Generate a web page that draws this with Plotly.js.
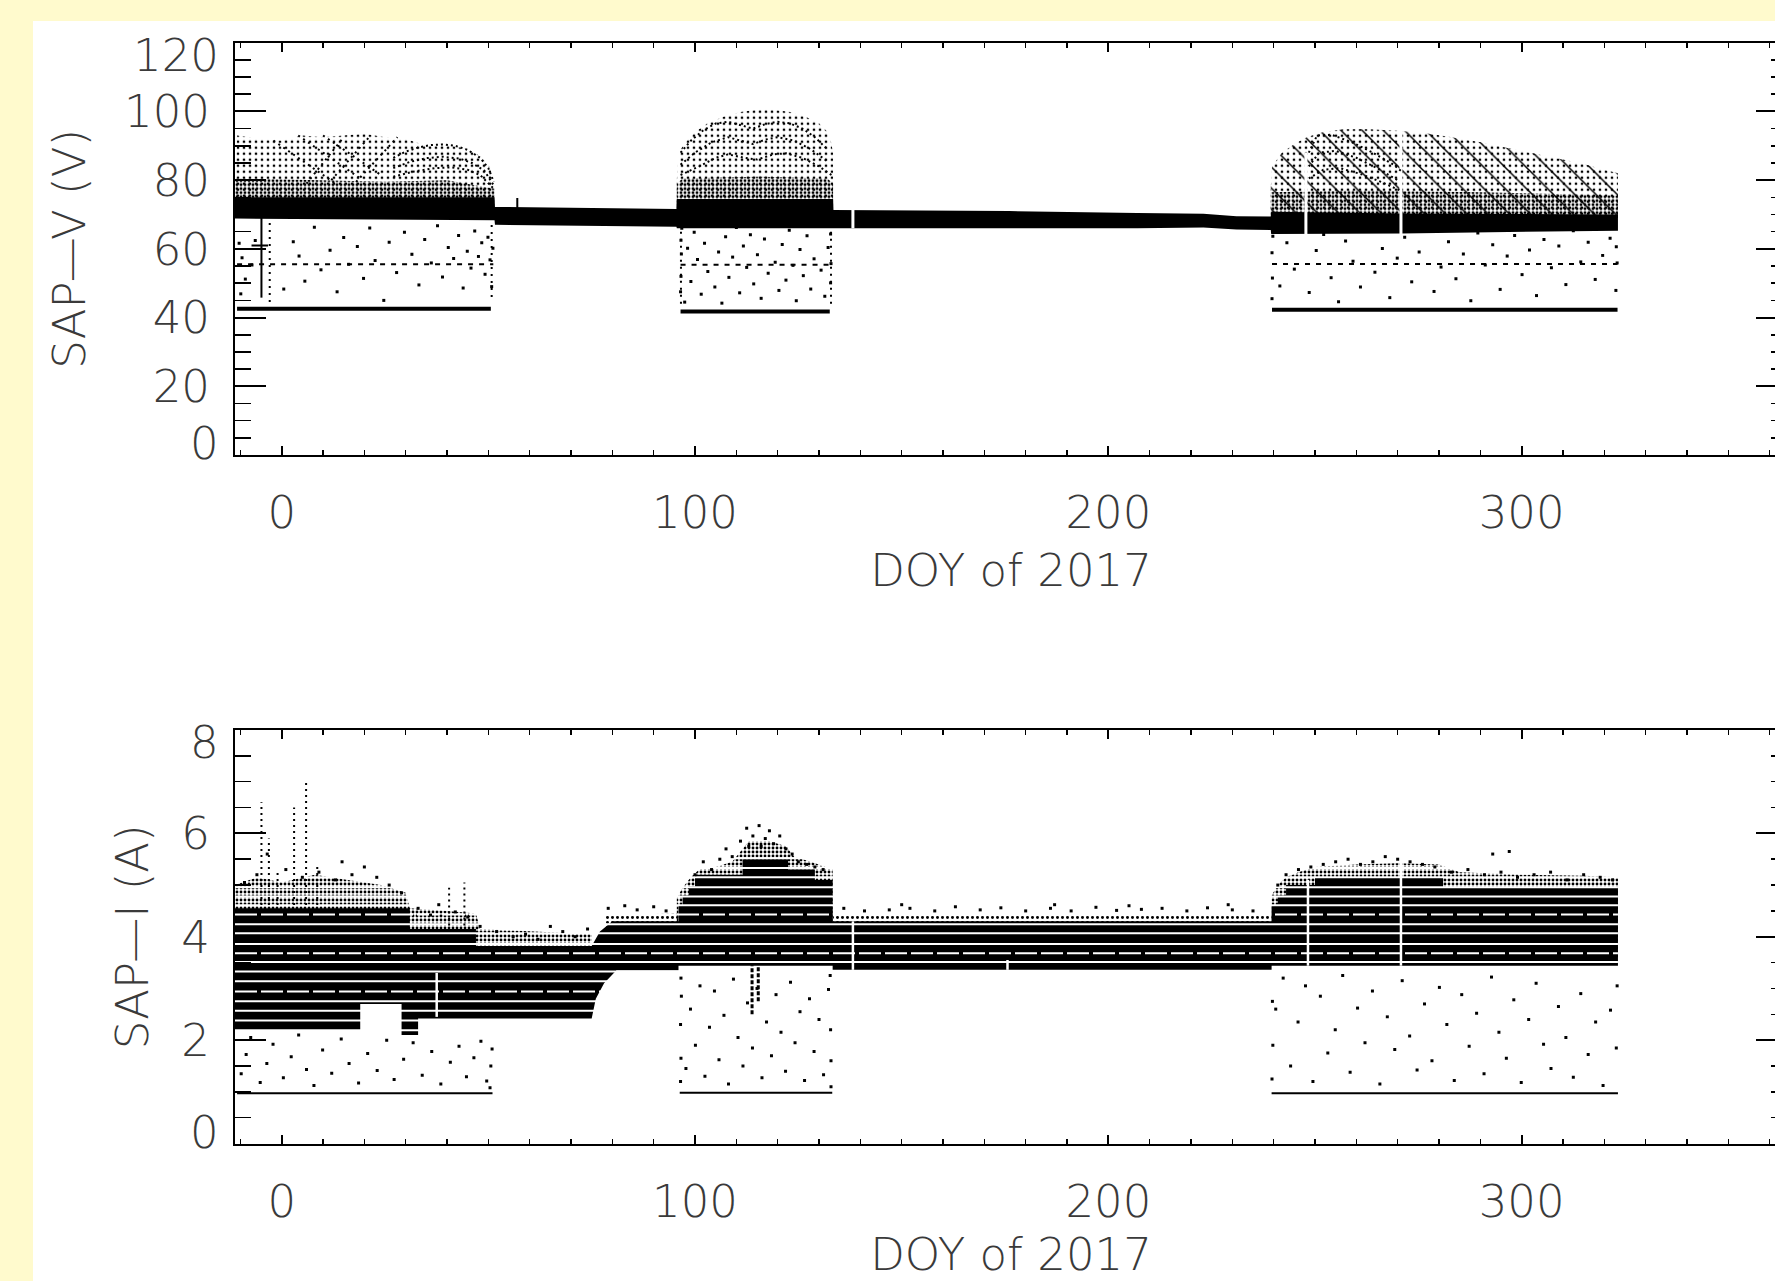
<!DOCTYPE html>
<html>
<head>
<meta charset="utf-8">
<script src="https://cdn.plot.ly/plotly-3.0.1.min.js"></script>
<style>
html, body { margin: 0; padding: 0; overflow: hidden; background: #fffacd; }
#chart { width: 1800px; height: 1300px; }
</style>
</head>
<body>
<div id="chart"></div>
<script>
// ================= SAP voltage (upper panel), volts vs DOY =================
// main telemetry band: upper and lower edge
const vBandX   = [-11.3, 51.5, 51.6, 95.5, 95.6, 133.4, 133.5, 176, 207, 223, 231, 239.3, 239.4, 271, 323.3];
const vBandTop = [75.0, 75.0, 72.2, 71.6, 74.5, 74.5, 71.3, 71.0, 70.4, 70.2, 69.5, 69.4, 70.8, 70.3, 70.0];
const vBandBot = [68.8, 68.3, 67.0, 66.4, 66.0, 66.0, 66.2, 66.0, 66.0, 66.2, 65.6, 65.5, 64.3, 64.5, 65.3];

// upper envelope of the scatter during the three eclipse seasons
const vEnv1X = [-11.3, -10.8, -5, 0, 5, 10, 15, 20, 25, 30, 35, 40, 45, 48, 50.5, 51.5];
const vEnv1V = [80, 93, 92, 91.5, 93, 92.5, 93, 93.5, 92.5, 92, 90, 90.3, 89, 87, 83.5, 78];
const vEnv2X = [95.6, 96, 98, 100, 103, 107, 111, 115, 119, 123, 127, 130, 132.5, 133.4];
const vEnv2V = [80, 88, 91.5, 94, 96.5, 98.5, 99.8, 100.5, 100.5, 99.8, 98.3, 96.5, 93.5, 88];
const vEnv3X = [239.3, 239.6, 242, 245, 248, 252, 257, 263, 270, 276, 282, 290, 298, 306, 314, 320, 323.3];
const vEnv3V = [78, 84, 88, 90.5, 92.5, 94, 94.8, 94.8, 94.4, 93.8, 92.7, 91, 89, 87, 85, 83, 82];

// densest part of the scatter just above the band
const vDense1X = [-11.3, 10, 25, 40, 51.5];
const vDense1V = [80.5, 80, 79.5, 80, 77.5];
const vDense2X = [95.6, 97, 115, 132, 133.4];
const vDense2V = [79, 80.5, 81, 80.5, 79];
const vDense3X = [239.3, 260, 290, 323.3];
const vDense3V = [76.5, 77, 76.5, 75.5];
const vZoneBase = [72, 72, 69];

// arcs traced by the upper points
const vArcX = [
  [27, 30, 33, 36, 39, 42, 45, 48, 50, 51.3],
  [27, 31, 35, 39, 43, 46, 49, 51.3],
  [27, 32, 37, 41, 45, 48, 51.3],
  [96.5, 99, 102, 105, 108, 111, 114, 117, 120, 123, 126, 129, 132],
  [96.5, 100, 104, 108, 111, 114, 117, 120, 124, 128, 132],
  [96.5, 101, 105, 108, 112, 115, 119, 122, 126, 130, 133],
  [248.5, 250.5, 254, 259, 264, 269, 271],
  [248.5, 251, 255, 260, 265, 270],
  [248.5, 252, 256, 261, 266, 270.5]
];
const vArcV = [
  [86.5, 88.3, 89.5, 90.2, 90.4, 90, 88.8, 86.5, 83.5, 79.5],
  [83.5, 85.3, 86.4, 86.8, 86.3, 85, 82.8, 78.5],
  [81, 82.5, 83.5, 83.7, 83, 81.5, 77.5],
  [88, 91.5, 94.5, 96.5, 97, 96, 95, 96.3, 97, 96.5, 95, 92.5, 89],
  [84.5, 88, 91, 92.5, 91.5, 90.5, 91.8, 92.5, 91.5, 89, 85.5],
  [81.5, 84, 86.5, 87.5, 86.5, 86, 87.5, 87.8, 86.5, 84, 81.5],
  [88, 93, 93.2, 91, 88, 84.5, 82.5],
  [84, 88, 88.5, 86.5, 83.5, 80],
  [80.5, 83, 83.5, 81.8, 79.5, 77]
];
// crossing diagonals early in the first season
const vDiagX = [[-2, 13], [4, 19], [10, 24], [6, 15], [12, 21.5], [18, 28]];
const vDiagV = [[91.5, 79], [93, 80.5], [93, 81.5], [79, 92.5], [80, 93], [79.5, 92.5]];

// lower floor and dashed level in each season
const vFloorX0 = [-10.8, 96.5, 239.6];
const vFloorX1 = [50.6, 132.6, 323.2];
const vFloorV  = [42.6, 41.8, 42.3];
const vMidX0 = [-10.8, 96.5, 239.6];
const vMidX1 = [51.2, 133.2, 323.2];
const vMidV  = [55.5, 55.4, 55.6];

// isolated vertical features
const vVertX  = [-4.9, 57];
const vVertLo = [45.8, 71];
const vVertHi = [69.7, 74.8];
const vDotColX  = [-2.9, 50.8, 96.6, 132.9];
const vDotColLo = [42.5, 46, 44, 44];
const vDotColHi = [68.8, 68, 67, 67];
const vGapX  = [138.2, 247.8, 270.8];
const vGapLo = [66, 64.2, 64.3];
const vGapHi = [71.5, 88, 95];

// scattered low readings
const vLow = [
  [-10.3,61.6],[-9.6,57.4],[-8.8,51.2],[-7.2,55.3],[-6.4,62.4],[-9.9,46.9],[0.5,48.3],[2.8,62.1],[4.2,57.9],[5.6,50.6],
  [7.9,66.3],[9.5,53.9],[11.7,59.6],[13.4,47.5],[15.0,63.3],[16.2,55.5],[18.3,60.7],[19.8,51.4],[21.3,66.1],[22.6,56.6],
  [24.7,45.0],[26.0,61.9],[27.8,53.1],[29.7,64.8],[31.5,58.4],[33.2,49.5],[34.6,62.7],[36.2,55.9],[37.7,66.7],[38.9,51.8],
  [40.3,60.4],[41.6,57.2],[42.8,63.9],[43.9,48.6],[44.9,59.3],[45.8,54.4],[46.7,65.2],[47.6,57.8],[48.4,61.8],[49.2,52.6],
  [49.9,63.4],[50.4,56.8],[50.8,49.0],[51.1,60.2],
  [96.5,47.5],[96.6,52],[96.7,58.5],[96.6,62.5],[96.8,66],[97.5,44.5],[98.2,60.2],[99,50.5],[99.8,64.8],[100.6,56.9],
  [101.5,46.8],[102.3,61.6],[103.1,53.4],[104,67.3],[104.8,48.9],[105.7,59.1],[106.5,44.2],[107.4,63.5],[108.2,51.7],[109.1,57.6],
  [110,66.2],[110.8,47.2],[111.7,60.8],[112.5,54.6],[113.4,64.1],[114.2,49.8],[115.1,58.3],[116,45.6],[116.8,62.9],[117.7,52.9],
  [118.5,67.1],[119.4,56.1],[120.3,47.9],[121.1,61.3],[122,50.9],[122.8,65.4],[123.7,55.2],[124.5,44.9],[125.4,59.8],[126.2,52.2],
  [127.1,63.8],[128,48.3],[128.8,57.1],[129.7,66.5],[130.5,53.8],[131.4,46.2],[132.2,60.4],[132.8,50.1],[132.9,55.7],[132.8,64.3],
  [239.6,45.5],[239.7,51.5],[239.6,58.9],[239.8,63.7],[241.5,49.2],[243.2,61.8],[245,54.1],[246.8,66.5],[248.6,47.3],[250.3,59.5],
  [252.1,64.2],[253.9,51.6],[255.7,44.6],[257.4,62.3],[259.2,56.4],[261,48.9],[262.8,65.9],[264.5,53.2],[266.3,60.1],[268.1,45.8],
  [269.9,57.3],[271.7,63.4],[273.4,50.4],[275.2,59.1],[277,66.8],[278.8,47.6],[280.5,54.7],[282.3,62.1],[284.1,51.3],[285.9,58.5],
  [287.7,44.9],[289.4,64.6],[291.2,55.3],[293,61.2],[294.8,48.2],[296.5,57.9],[298.3,63.9],[300.1,52.5],[301.9,59.7],[303.6,46.4],
  [305.4,62.7],[307.2,54.5],[309,60.8],[310.7,49.6],[312.5,65.3],[314.3,56.2],[316.1,61.9],[317.8,51.1],[319.6,58.1],[321.4,63.1],
  [322.8,47.9],[323.1,55.9],[322.9,60.6]
];

// ================= SAP current (lower panel), amperes vs DOY =================
const iTopX = [-11.3, 31, 31, 47, 47, 75, 77, 80, 96, 96, 97, 97, 98.5, 98.5, 100, 100, 111.5, 111.5, 122.5, 122.5, 129, 129, 133.3, 133.3, 239.5, 239.5, 241, 241, 243, 243, 250, 250, 281, 281, 323.3];
const iTopA = [4.55, 4.55, 4.15, 4.15, 3.82, 3.82, 4.1, 4.3, 4.3, 4.6, 4.6, 4.8, 4.8, 4.97, 4.97, 5.2, 5.2, 5.5, 5.5, 5.3, 5.3, 5.1, 5.1, 4.3, 4.3, 4.6, 4.6, 4.8, 4.8, 5.0, 5.0, 5.15, 5.15, 4.95, 4.95];
const iBotX = [-11.3, 19, 19, 29, 29, 33, 33, 75, 76, 78, 81, 96, 96, 133.3, 133.3, 239.5, 239.5, 323.3];
const iBotA = [2.18, 2.18, 2.7, 2.7, 2.1, 2.1, 2.42, 2.42, 2.8, 3.1, 3.35, 3.35, 3.44, 3.44, 3.36, 3.36, 3.44, 3.44];

// quantisation levels showing as light stripes through the band
const iStripes = [2.19, 2.38, 2.57, 2.75, 3.14, 3.33, 3.51, 3.86, 4.07, 4.24, 4.61, 4.78, 4.96, 5.15, 5.33, 5.52];
const iStripesBroken = [2.94, 3.68, 4.43];

// ragged upper fringe of the band
const iZone1X = [-11.3, -6, 0, 8, 16, 24, 30, 31, 40, 47, 48, 60, 75];
const iZone1A = [5.0, 5.15, 5.05, 5.2, 5.1, 5.0, 4.85, 4.55, 4.5, 4.45, 4.15, 4.1, 4.05];
const iZone2X = [95.6, 97, 99, 101, 105, 109, 111.5, 113, 118, 122, 124, 128, 133.3];
const iZone2A = [4.75, 4.95, 5.15, 5.3, 5.35, 5.45, 5.7, 5.85, 5.85, 5.75, 5.55, 5.45, 5.3];
const iZone3X = [239.5, 241, 243, 246, 250, 260, 270, 280, 285, 300, 315, 323.3];
const iZone3A = [4.8, 5.0, 5.15, 5.25, 5.35, 5.4, 5.42, 5.4, 5.25, 5.2, 5.18, 5.15];
const iZone4X = [78, 96];
const iZone4A = [4.42, 4.45];
const iZone5X = [133.3, 239.5];
const iZone5A = [4.44, 4.44];

// floor level of each season
const iFloorX0 = [-10.8, 96.3, 239.5];
const iFloorX1 = [51, 133.2, 323.3];
const iFloorA  = [0.97, 0.98, 0.97];

// spikes and gaps
const iSpikeX   = [-4.9, -3.1, -1.0, 3.0, 5.9, 8.6, 40.5, 44.2];
const iSpikeTop = [6.6, 5.9, 5.3, 6.5, 7.05, 5.35, 4.95, 5.05];
const iSpikeBase = [4.5, 4.5, 4.5, 4.5, 4.5, 4.5, 4.1, 4.1];
const iDipX   = [113.8, 115.3];
const iDipLow = [2.5, 2.75];
const iDipTop = 3.45;
const iGapX  = [37.5, 138.2, 175.6, 248.3, 270.8];
const iGapLo = [2.45, 3.36, 3.36, 3.44, 3.44];
const iGapHi = [3.3, 4.3, 3.55, 5.1, 5.55];

// outliers above the band
const iHigh = [
  [-9,5.05],[-6,5.2],[-3.5,5.6],[1,5.3],[5,5.15],[9,5.25],[13,5.1],[14.6,5.45],[17,5.2],[20,5.35],[23,5.15],[26,5.0],[29,4.85],
  [33,4.55],[36,4.42],[38,4.62],[42,4.48],[45,4.38],[48,4.2],[52,4.1],[56,4.0],[59,4.05],[62,3.95],
  [65,4.2],[68,4.1],[71,4.0],[74,4.15],[79,4.55],[83,4.6],[86,4.52],[90,4.58],[93,4.5],
  [100,5.2],[102,5.45],[104,5.3],[106,5.5],[107.5,5.7],[109,5.55],[111,5.85],[112.5,6.1],[113,5.75],[114,5.95],[115.5,6.15],
  [116,5.75],[117,5.9],[118,6.05],[119,5.8],[120.5,5.95],[122,5.7],[123.5,5.6],[125,5.45],[127,5.4],[129,5.35],[131,5.3],
  [136,4.55],[141,4.5],[147,4.52],[150,4.62],[152,4.55],[158,4.5],[163,4.58],[169,4.52],[174,4.56],[180,4.5],[186,4.55],
  [187,4.62],[191,4.5],[197,4.57],[202,4.51],[205,4.6],[208,4.53],[213,4.55],[219,4.5],[224,4.56],[229,4.62],[230,4.52],[235,4.5],
  [241,5.0],[243,5.2],[246,5.3],[249,5.35],[252,5.4],[255,5.45],[258,5.5],[261,5.4],[264,5.45],[267,5.55],[270,5.5],[273,5.45],
  [276,5.4],[279,5.35],[283,5.25],[287,5.3],[291,5.2],[293,5.6],[295,5.25],[297,5.65],[299,5.15],[303,5.2],[307,5.25],[311,5.1],
  [315,5.2],[319,5.15],[322,5.1]
];
// scattered low readings
const iLow = [
  [-9.8,1.35],[-8.6,1.72],[-7.5,2.05],[-5.2,1.18],[-3.6,1.55],[-2.1,1.92],[0.4,1.27],[2.3,1.68],[4.1,2.1],[6.0,1.43],
  [7.8,1.12],[9.9,1.81],[12.1,1.36],[14.4,2.02],[16.3,1.55],[18.6,1.17],[20.8,1.74],[23.1,1.41],[25.4,2.0],[27.2,1.24],
  [29.5,1.63],[31.8,1.95],[34.0,1.32],[36.3,1.78],[38.5,1.15],[40.8,1.57],[42.9,1.88],[44.7,1.29],[46.5,1.66],[48.2,1.98],
  [49.6,1.21],[50.6,1.5],[50.9,1.83],[50.4,1.08],
  [96.5,1.2],[96.6,1.65],[96.5,2.3],[96.7,2.85],[96.6,3.2],[97.8,1.45],[98.9,2.6],[100.1,1.9],[101.2,3.05],[102.4,1.3],
  [103.5,2.25],[104.7,2.95],[105.8,1.62],[107,2.48],[108.1,1.15],[109.3,3.18],[110.4,2.05],[111.6,1.5],[112.7,2.72],[113.9,1.85],
  [115,3.0],[116.2,1.27],[117.3,2.35],[118.5,1.7],[119.6,2.88],[120.8,2.15],[121.9,1.4],[123.1,3.12],[124.2,1.95],[125.4,2.55],
  [126.5,1.22],[127.7,2.8],[128.8,1.78],[130,2.4],[131.1,1.33],[132.3,2.98],[132.8,2.2],[132.9,1.6],[132.7,3.25],[132.9,1.1],
  [239.6,1.25],[239.8,1.9],[239.7,2.75],[240.5,2.6],[242.3,3.2],[244.1,1.5],[245.9,2.35],[247.7,3.05],[249.5,1.2],[251.3,2.85],
  [253.1,1.75],[254.9,2.2],[256.7,3.25],[258.5,1.38],[260.3,2.62],[262.1,1.95],[263.9,2.95],[265.7,1.15],[267.5,2.45],[269.3,1.82],
  [271.1,3.15],[272.9,2.08],[274.7,1.42],[276.5,2.7],[278.3,1.6],[280.1,3.02],[281.9,2.3],[283.7,1.22],[285.5,2.88],[287.3,1.88],
  [289.1,2.52],[290.9,1.35],[292.7,3.22],[294.5,2.15],[296.3,1.65],[298.1,2.78],[299.9,1.18],[301.7,2.4],[303.5,3.1],[305.3,1.92],
  [307.1,1.45],[308.9,2.65],[310.7,2.05],[312.5,1.28],[314.3,2.9],[316.1,1.72],[317.9,2.35],[319.7,1.12],[321.5,2.58],[322.9,1.85],
  [323.1,3.05]
];

// axis ticks
const xTicks = [0, 100, 200, 300];
const vTicks = [0, 20, 40, 60, 80, 100, 120];
const iTicks = [0, 2, 4, 6, 8];

// ---------------- helpers ----------------
// page geometry in pixels measured from the top-left corner
const W = 1800, H = 1300;
const frameL = 235, frameR = 1787;
const topT = 42.7, topB = 455, botT = 730, botB = 1143.5;
const INK = '#000';

function polygon(xTop, yTop, xBot, yBot) {
  return { x: xTop.concat(xBot.slice().reverse()), y: yTop.concat(yBot.slice().reverse()) };
}
function area(xa, ya, poly, pattern) {
  return {
    type: 'scatter', mode: 'lines', x: poly.x, y: poly.y, xaxis: xa, yaxis: ya,
    fill: 'toself',
    fillcolor: pattern ? 'rgba(0,0,0,0)' : INK,
    fillpattern: pattern ? Object.assign({ fgcolor: INK, bgcolor: 'rgba(0,0,0,0)' }, pattern) : undefined,
    line: { width: 0, color: 'rgba(0,0,0,0)' },
    hoverinfo: 'skip', showlegend: false
  };
}
function lines(xa, ya, xs, ys, color, width, dash) {
  return {
    type: 'scatter', mode: 'lines', x: xs, y: ys, xaxis: xa, yaxis: ya,
    line: { color: color, width: width, dash: dash || 'solid' },
    hoverinfo: 'skip', showlegend: false
  };
}
function pick(v, k) { return Array.isArray(v) ? v[k] : v; }
function vSegs(xs, lo, hi) {
  const x = [], y = [];
  xs.forEach((v, k) => { x.push(v, v, null); y.push(pick(lo, k), pick(hi, k), null); });
  return { x, y };
}
function hSegs(x0, x1, ys) {
  const x = [], y = [];
  ys.forEach((v, k) => { x.push(pick(x0, k), pick(x1, k), null); y.push(v, v, null); });
  return { x, y };
}
function multi(xsList, ysList) {
  const x = [], y = [];
  xsList.forEach((xs, k) => { x.push(...xs, null); y.push(...ysList[k], null); });
  return { x, y };
}
function dots(xa, ya, pairs) {
  return {
    type: 'scatter', mode: 'markers', x: pairs.map(p => p[0]), y: pairs.map(p => p[1]),
    xaxis: xa, yaxis: ya,
    marker: { symbol: 'square', size: 3, color: INK, line: { width: 0 } },
    hoverinfo: 'skip', showlegend: false
  };
}

const traces = [];

// ---- upper panel ----
const vEnvX = [vEnv1X, vEnv2X, vEnv3X], vEnvV = [vEnv1V, vEnv2V, vEnv3V];
const vDenX = [vDense1X, vDense2X, vDense3X], vDenV = [vDense1V, vDense2V, vDense3V];
for (let k = 0; k < 3; k++) {
  const ex = vEnvX[k];
  const base = [vZoneBase[k], vZoneBase[k]];
  const ends = [ex[0], ex[ex.length - 1]];
  traces.push(area('x', 'y', polygon(ex, vEnvV[k], ends, base), { shape: '.', size: 6, solidity: 0.16 }));
  if (k === 2) traces.push(area('x', 'y', polygon(ex, vEnvV[k], ends, base), { shape: '\\', size: 15, solidity: 0.1 }));
  const dx = vDenX[k];
  traces.push(area('x', 'y', polygon(dx, vDenV[k], [dx[0], dx[dx.length - 1]], base), { shape: '.', size: 4, solidity: 0.42 }));
}
traces.push(area('x', 'y', polygon(vBandX, vBandTop, vBandX, vBandBot), null));
let s = vSegs(vGapX, vGapLo, vGapHi);
traces.push(lines('x', 'y', s.x, s.y, '#fff', 3));
s = multi(vArcX, vArcV);
traces.push(lines('x', 'y', s.x, s.y, INK, 2, '2px,3px'));
s = multi(vDiagX, vDiagV);
traces.push(lines('x', 'y', s.x, s.y, INK, 2, '2px,4px'));
s = hSegs(vFloorX0, vFloorX1, vFloorV);
traces.push(lines('x', 'y', s.x, s.y, INK, 4));
s = hSegs(vMidX0, vMidX1, vMidV);
traces.push(lines('x', 'y', s.x, s.y, INK, 2, '5px,6px'));
s = vSegs(vVertX, vVertLo, vVertHi);
traces.push(lines('x', 'y', s.x, s.y, INK, 2));
s = hSegs([-7.3], [-3.3], [61]);
traces.push(lines('x', 'y', s.x, s.y, INK, 2));
s = vSegs(vDotColX, vDotColLo, vDotColHi);
traces.push(lines('x', 'y', s.x, s.y, INK, 2, '2px,5px'));
traces.push(dots('x', 'y', vLow));

// ---- lower panel ----
const iZoneX = [iZone1X, iZone2X, iZone3X], iZoneA = [iZone1A, iZone2A, iZone3A];
iZoneX.forEach((zx, k) => {
  traces.push(area('x2', 'y2', polygon(zx, iZoneA[k], [zx[0], zx[zx.length - 1]], [3.6, 3.6]), { shape: '.', size: 4, solidity: 0.4 }));
});
[[iZone4X, iZone4A], [iZone5X, iZone5A]].forEach(([zx, za]) => {
  traces.push(area('x2', 'y2', polygon(zx, za, zx, [3.6, 3.6]), { shape: '.', size: 5, solidity: 0.28 }));
});
traces.push(area('x2', 'y2', polygon(iTopX, iTopA, iBotX, iBotA), null));
s = hSegs(iTopX[0], iTopX[iTopX.length - 1], iStripes);
traces.push(lines('x2', 'y2', s.x, s.y, '#fff', 2));
s = hSegs(iTopX[0], iTopX[iTopX.length - 1], iStripesBroken);
traces.push(lines('x2', 'y2', s.x, s.y, '#fff', 2, '22px,4px'));
s = vSegs(iGapX, iGapLo, iGapHi);
traces.push(lines('x2', 'y2', s.x, s.y, '#fff', 2.5));
s = vSegs(iSpikeX, iSpikeBase, iSpikeTop);
traces.push(lines('x2', 'y2', s.x, s.y, INK, 2, '2px,4px'));
s = vSegs(iDipX, iDipLow, iDipTop);
traces.push(lines('x2', 'y2', s.x, s.y, INK, 3, '4px,2px'));
s = hSegs(iFloorX0, iFloorX1, iFloorA);
traces.push(lines('x2', 'y2', s.x, s.y, INK, 2));
traces.push(dots('x2', 'y2', iHigh));
traces.push(dots('x2', 'y2', iLow));

// ---------------- layout ----------------
const font = { family: '"DejaVu Sans", Inter, sans-serif', size: 45, color: '#3a3a3a', weight: 200 };
const xDom = [frameL / W, frameR / W];
const xRange = [-11.3, 364.2];

function xAxis(anchor, titleStandoff) {
  return {
    domain: xDom, range: xRange, anchor: anchor,
    showline: true, linecolor: INK, linewidth: 2, mirror: 'ticks',
    ticks: 'inside', ticklen: 9, tickwidth: 2, tickcolor: INK,
    tickmode: 'array', tickvals: xTicks, ticktext: xTicks.map(String),
    minor: { tickmode: 'linear', tick0: 0, dtick: 10, ticks: 'inside', ticklen: 5, tickwidth: 1.5, tickcolor: INK },
    showgrid: false, zeroline: false, tickfont: font, ticklabelstandoff: 17,
    title: { text: 'DOY of 2017', font: font, standoff: titleStandoff }
  };
}
function yAxis(anchor, dom, range, vals, minorStep, title, standoff) {
  return {
    domain: dom, range: range, anchor: anchor,
    showline: true, linecolor: INK, linewidth: 2, mirror: 'ticks',
    ticks: 'inside', ticklen: 31, tickwidth: 2, tickcolor: INK,
    tickmode: 'array', tickvals: vals,
    ticktext: vals.map((v, k) => (k === 0 || k === vals.length - 1) ? '' : String(v)),
    minor: { tickmode: 'linear', tick0: 0, dtick: minorStep, ticks: 'inside', ticklen: 16, tickwidth: 1.5, tickcolor: INK },
    showgrid: false, zeroline: false, tickfont: font, ticklabelstandoff: 14,
    title: { text: title, font: font, standoff: standoff }
  };
}
// the end labels of each vertical axis sit flush inside the frame
function endLabel(yref, value, top) {
  return {
    xref: 'paper', x: frameL / W, xanchor: 'right', xshift: -14,
    yref: yref, y: value, yanchor: top ? 'top' : 'bottom', yshift: top ? 16 : -17,
    text: String(value), showarrow: false, font: font
  };
}

const layout = {
  width: W, height: H,
  margin: { l: 0, r: 0, t: 0, b: 0 },
  paper_bgcolor: '#fffacd', plot_bgcolor: '#ffffff',
  font: font, showlegend: false,
  xaxis: xAxis('y', 16),
  yaxis: yAxis('x', [(H - topB) / H, (H - topT) / H], [0, 120], vTicks, 5, 'SAP—V (V)', 24),
  xaxis2: xAxis('y2', 11),
  yaxis2: yAxis('x2', [(H - botB) / H, (H - botT) / H], [0, 8], iTicks, 0.5, 'SAP—I (A)', 19),
  shapes: [{
    type: 'rect', xref: 'paper', yref: 'paper', x0: 33 / W, x1: 1, y0: 0, y1: (H - 21) / H,
    fillcolor: '#ffffff', line: { width: 0 }, layer: 'below'
  }],
  annotations: [
    endLabel('y', vTicks[vTicks.length - 1], true),
    endLabel('y', vTicks[0], false),
    endLabel('y2', iTicks[iTicks.length - 1], true),
    endLabel('y2', iTicks[0], false)
  ]
};

Plotly.newPlot('chart', traces, layout, { staticPlot: true, displayModeBar: false });
</script>
</body>
</html>
